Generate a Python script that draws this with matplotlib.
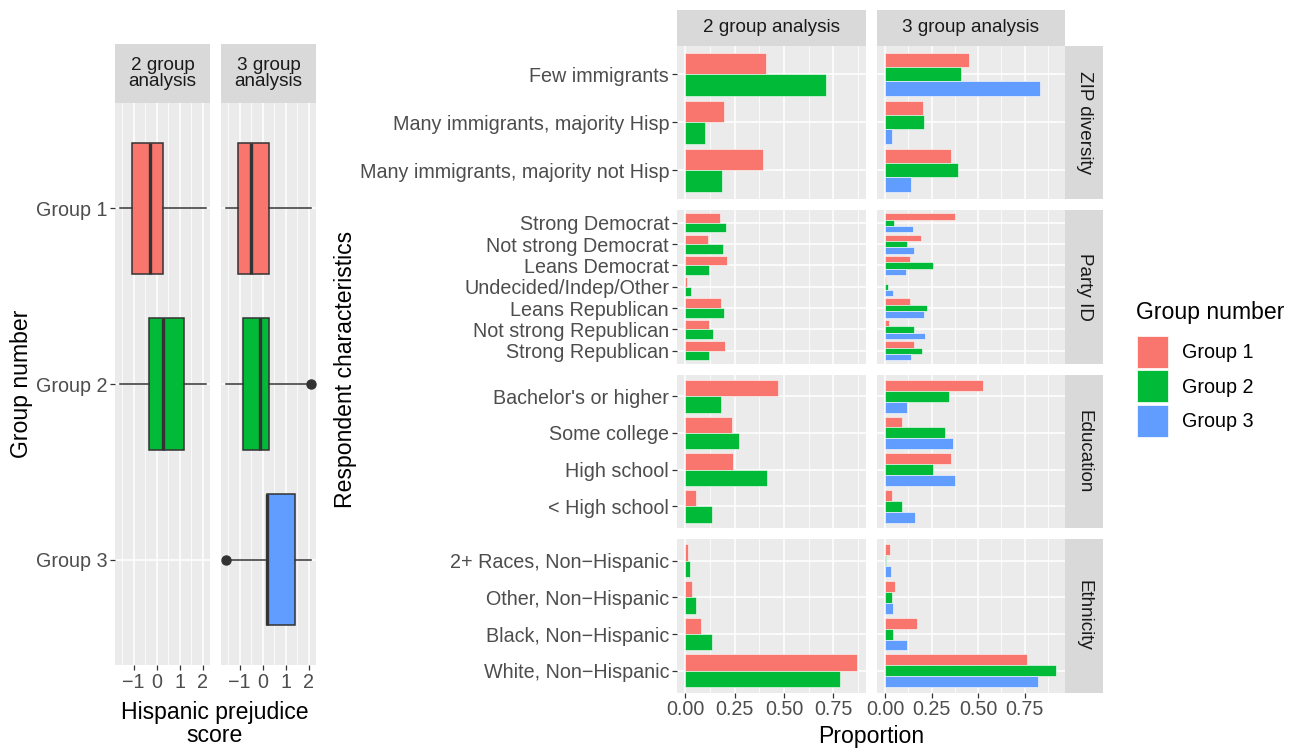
import numpy as np
import matplotlib
matplotlib.use("Agg")
import matplotlib.pyplot as plt
from matplotlib.patches import Patch

plt.rcParams['font.family'] = ['Liberation Sans', 'DejaVu Sans']

# ---- data ----
group_names = ["Group 1", "Group 2", "Group 3"]
group_colors = ["#F8766D", "#00BA38", "#619CFF"]
analyses = ["2 group analysis", "3 group analysis"]

# boxplots of Hispanic prejudice score (left chart)
box2_q1 = [-1.07, -0.32]
box2_med = [-0.30, 0.26]
box2_q3 = [0.27, 1.19]
box2_lo = [-1.61, -1.61]
box2_hi = [2.12, 2.12]
box2_fliers = [[], []]

box3_q1 = [-1.07, -0.87, 0.20]
box3_med = [-0.49, -0.13, 0.20]
box3_q3 = [0.26, 0.26, 1.39]
box3_lo = [-1.61, -1.61, -1.45]
box3_hi = [2.10, 1.90, 2.10]
box3_fliers = [[], [2.10], [-1.61]]

# respondent characteristics (right chart)
facets = ["ZIP diversity", "Party ID", "Education", "Ethnicity"]

zip_cats = ["Few immigrants", "Many immigrants, majority Hisp",
            "Many immigrants, majority not Hisp"]
zip_2g = [[0.410, 0.198, 0.395],
          [0.713, 0.101, 0.188]]
zip_3g = [[0.450, 0.204, 0.354],
          [0.407, 0.209, 0.391],
          [0.830, 0.038, 0.139]]

party_cats = ["Strong Democrat", "Not strong Democrat", "Leans Democrat",
              "Undecided/Indep/Other", "Leans Republican",
              "Not strong Republican", "Strong Republican"]
party_2g = [[0.177, 0.117, 0.213, 0.010, 0.182, 0.122, 0.203],
            [0.208, 0.193, 0.122, 0.030, 0.198, 0.142, 0.122]]
party_3g = [[0.375, 0.193, 0.134, 0.005, 0.134, 0.021, 0.155],
            [0.048, 0.118, 0.257, 0.016, 0.225, 0.155, 0.198],
            [0.150, 0.155, 0.113, 0.043, 0.209, 0.214, 0.139]]

edu_cats = ["Bachelor's or higher", "Some college", "High school",
            "< High school"]
edu_2g = [[0.471, 0.238, 0.243, 0.056],
          [0.182, 0.274, 0.416, 0.137]]
edu_3g = [[0.525, 0.091, 0.354, 0.038],
          [0.343, 0.321, 0.257, 0.091],
          [0.118, 0.364, 0.375, 0.161]]

eth_cats = ["2+ Races, Non\u2212Hispanic", "Other, Non\u2212Hispanic",
            "Black, Non\u2212Hispanic", "White, Non\u2212Hispanic"]
eth_2g = [[0.015, 0.035, 0.081, 0.872],
          [0.025, 0.056, 0.137, 0.785]]
eth_3g = [[0.027, 0.054, 0.171, 0.761],
          [0.005, 0.038, 0.043, 0.921],
          [0.032, 0.043, 0.118, 0.820]]

# ---- styling ----
W, H = 1301, 749
PANEL = "#EBEBEB"
STRIP = "#D9D9D9"
TICKC = "#4D4D4D"
TICK_FS = 14.2
STRIP_FS = 13.6
TITLE_FS = 16.6

fig = plt.figure(figsize=(W / 100, H / 100), dpi=100)


def rect(x0, y0, x1, y1):
    # pixel box (top-left origin) -> figure fraction
    return [x0 / W, 1 - y1 / H, (x1 - x0) / W, (y1 - y0) / H]


def gg_axes(r):
    ax = fig.add_axes(rect(*r))
    ax.set_facecolor(PANEL)
    for s in ax.spines.values():
        s.set_visible(False)
    ax.set_axisbelow(True)
    ax.grid(True, which="major", color="white", lw=1.1)
    ax.grid(True, which="minor", axis="x", color="white", lw=0.55)
    ax.tick_params(which="major", length=3.5, width=0.9, color="#333333",
                   labelcolor=TICKC, labelsize=TICK_FS, pad=2)
    ax.tick_params(which="minor", length=0)
    return ax


def strip(r, text, rotation=0):
    s = fig.add_axes(rect(*r))
    s.set_facecolor(STRIP)
    s.set_xticks([])
    s.set_yticks([])
    for sp in s.spines.values():
        sp.set_visible(False)
    s.text(0.5, 0.5, text, ha="center", va="center", rotation=rotation,
           fontsize=STRIP_FS, color="#1A1A1A", linespacing=0.95,
           transform=s.transAxes)


# ---- left chart: boxplots ----
left_cols = [(115, 210), (221, 316)]
box_sets = [
    (box2_q1, box2_med, box2_q3, box2_lo, box2_hi, box2_fliers),
    (box3_q1, box3_med, box3_q3, box3_lo, box3_hi, box3_fliers),
]
for j, ((x0, x1), data) in enumerate(zip(left_cols, box_sets)):
    ax = gg_axes((x0, 103, x1, 665))
    q1, med, q3, lo, hi, fl = data
    stats = []
    for k in range(len(q1)):
        stats.append(dict(q1=q1[k], med=med[k], q3=q3[k], whislo=lo[k],
                          whishi=hi[k], fliers=fl[k]))
    pos = np.arange(1, len(stats) + 1)
    bp = ax.bxp(stats, positions=pos, vert=False, widths=0.75,
                patch_artist=True, showcaps=False,
                boxprops=dict(edgecolor="#333333", lw=1.1),
                medianprops=dict(color="#333333", lw=2.4),
                whiskerprops=dict(color="#333333", lw=1.1),
                flierprops=dict(marker="o", markerfacecolor="#333333",
                                markeredgecolor="#333333", markersize=6.5))
    for patch, c in zip(bp["boxes"], group_colors):
        patch.set_facecolor(c)
    ax.set_xlim(-1.81, 2.31)
    ax.set_ylim(3.6, 0.4)
    ax.set_xticks([-1, 0, 1, 2])
    ax.set_xticks([-1.5, -0.5, 0.5, 1.5], minor=True)
    ax.set_yticks([1, 2, 3])
    if j == 0:
        ax.set_yticklabels(group_names)
    else:
        ax.tick_params(axis="y", length=0, labelleft=False)
    strip((x0, 44, x1, 103), analyses[j].replace(" analysis", "\nanalysis"))

fig.text(22 / W, 1 - 384 / H, "Group number", rotation=90, ha="center",
         va="center", fontsize=TITLE_FS)
fig.text(215 / W, 1 - 724 / H, "Hispanic prejudice\nscore", ha="center",
         va="center", fontsize=TITLE_FS, linespacing=0.95)

# ---- right chart: bars ----
right_cols = [(676.7, 866), (876.7, 1065)]
row_h, row_gap, top = 153.5, 11.0, 45.5
cat_sets = [zip_cats, party_cats, edu_cats, eth_cats]
vals_2g = [zip_2g, party_2g, edu_2g, eth_2g]
vals_3g = [zip_3g, party_3g, edu_3g, eth_3g]

xmax = [max(max(max(s) for s in f) for f in vals_2g),
        max(max(max(s) for s in f) for f in vals_3g)]

for i, cats in enumerate(cat_sets):
    y0 = top + i * (row_h + row_gap)
    y1 = y0 + row_h
    for j, (x0, x1) in enumerate(right_cols):
        series = vals_2g[i] if j == 0 else vals_3g[i]
        ax = gg_axes((x0, y0, x1, y1))
        n = len(series)
        w = 0.9 / n
        yy = np.arange(len(cats))
        for k, vals in enumerate(series):
            ax.barh(yy - 0.45 + w * (k + 0.5), vals, height=w,
                    color=group_colors[k], edgecolor="white", linewidth=0.4)
        pad = 0.05 * xmax[j]
        ax.set_xlim(-pad, xmax[j] + pad)
        ax.set_ylim(len(cats) - 0.4, -0.6)
        ax.set_xticks([0, 0.25, 0.5, 0.75])
        ax.set_xticks([0.125, 0.375, 0.625, 0.875], minor=True)
        ax.set_xticklabels(["0.00", "0.25", "0.50", "0.75"])
        ax.set_yticks(yy)
        if j == 0:
            ax.set_yticklabels(cats)
        else:
            ax.tick_params(axis="y", length=0, labelleft=False)
        if i < len(cat_sets) - 1:
            ax.tick_params(axis="x", length=0, labelbottom=False)
        if i == 0:
            strip((x0, 10, x1, top), analyses[j])
    strip((1065, y0, 1103, y1), facets[i], rotation=-90)

fig.text(345 / W, 1 - 369 / H, "Respondent characteristics", rotation=90,
         ha="center", va="center", fontsize=TITLE_FS)
fig.text(871 / W, 1 - 737 / H, "Proportion", ha="center", va="center",
         fontsize=TITLE_FS)

# legend
fig.text(1136 / W, 1 - 313 / H, "Group number", ha="left", va="center",
         fontsize=TITLE_FS)
handles = [Patch(facecolor=c, edgecolor="white", lw=0.5) for c in group_colors]
leg = fig.legend(handles, group_names,
                 loc="upper left", bbox_to_anchor=(1136.5 / W, 1 - 336 / H),
                 frameon=False, fontsize=TICK_FS, borderpad=0,
                 handlelength=1.62, handleheight=2.12, labelspacing=0.12,
                 handletextpad=0.68, borderaxespad=0)

fig.savefig("out.png", dpi=100)
